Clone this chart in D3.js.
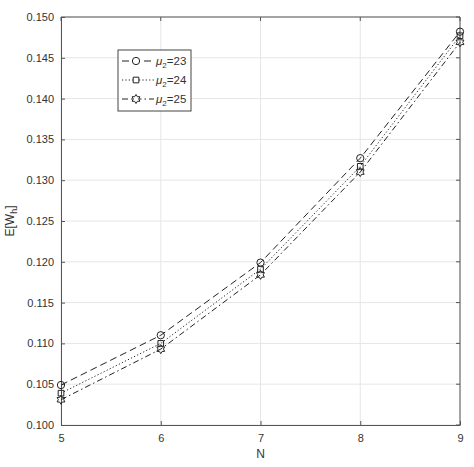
<!DOCTYPE html>
<html>
<head>
<meta charset="utf-8">
<script src="https://cdn.jsdelivr.net/npm/d3@7"></script>
<style>
  body { margin: 0; background: #fff; }
  text { font-family: "Liberation Sans", Arial, sans-serif; fill: #333; }
</style>
</head>
<body>
<svg id="chart"></svg>
<script>
// values
const nValues = [5, 6, 7, 8, 9];
const mu23 = [0.1049, 0.1110, 0.1199, 0.1327, 0.1482];
const mu24 = [0.1039, 0.1100, 0.1191, 0.1317, 0.1477];
const mu25 = [0.1031, 0.1093, 0.1184, 0.1310, 0.1469];
const seriesNames = ["23", "24", "25"];
const yTicks = [0.100, 0.105, 0.110, 0.115, 0.120, 0.125, 0.130, 0.135, 0.140, 0.145, 0.150];

// six-pointed star, like MATLAB's hexagram marker
const hexagram = {
  draw(ctx, size) {
    const r = Math.sqrt(size) * 0.75;
    const ri = r * 0.6;
    for (let i = 0; i < 12; i++) {
      const a = -Math.PI / 2 + i * Math.PI / 6;
      const rr = i % 2 === 0 ? r : ri;
      const px = rr * Math.cos(a), py = rr * Math.sin(a);
      if (i === 0) ctx.moveTo(px, py); else ctx.lineTo(px, py);
    }
    ctx.closePath();
  }
};

const series = [
  { name: seriesNames[0], values: mu23, dash: "7,4", symbol: d3.symbolCircle, size: 42 },
  { name: seriesNames[1], values: mu24, dash: "1.2,2.2", symbol: d3.symbolSquare, size: 32 },
  { name: seriesNames[2], values: mu25, dash: "6,3,1.5,3", symbol: hexagram, size: 36 }
];

const W = 474, H = 467;
const margin = { top: 17, right: 14, bottom: 42, left: 61 };
const width = W - margin.left - margin.right;
const height = H - margin.top - margin.bottom;

const svg = d3.select("#chart").attr("width", W).attr("height", H);
const g = svg.append("g").attr("transform", `translate(${margin.left},${margin.top})`);

const x = d3.scaleLinear().domain([5, 9]).range([0, width]);
const y = d3.scaleLinear().domain([0.100, 0.150]).range([height, 0]);

// grid
g.append("g").selectAll("line").data(nValues).join("line")
  .attr("x1", d => x(d)).attr("x2", d => x(d))
  .attr("y1", 0).attr("y2", height)
  .attr("stroke", "#e6e6e6").attr("stroke-width", 1);
g.append("g").selectAll("line").data(yTicks).join("line")
  .attr("x1", 0).attr("x2", width)
  .attr("y1", d => y(d)).attr("y2", d => y(d))
  .attr("stroke", "#e6e6e6").attr("stroke-width", 1);

// axes with inward ticks
const xAxis = g.append("g").attr("transform", `translate(0,${height})`)
  .call(d3.axisBottom(x).tickValues(nValues).tickFormat(d3.format("d")).tickSizeInner(-4).tickSizeOuter(0).tickPadding(9));
const yAxis = g.append("g")
  .call(d3.axisLeft(y).tickValues(yTicks).tickFormat(d3.format(".3f")).tickSizeInner(-4).tickSizeOuter(0).tickPadding(7));
[xAxis, yAxis].forEach(a => {
  a.selectAll("text").attr("font-size", 11).attr("fill", "#333");
  a.selectAll("line").attr("stroke", "#555");
  a.select(".domain").attr("stroke", "#555");
});
// top and right frame with inward ticks
g.append("line").attr("x1", 0).attr("x2", width).attr("y1", 0).attr("y2", 0).attr("stroke", "#555");
g.append("line").attr("x1", width).attr("x2", width).attr("y1", 0).attr("y2", height).attr("stroke", "#555");
g.append("g").selectAll("line").data(nValues).join("line")
  .attr("x1", d => x(d)).attr("x2", d => x(d)).attr("y1", 0).attr("y2", 4).attr("stroke", "#555");
g.append("g").selectAll("line").data(yTicks).join("line")
  .attr("x1", width - 4).attr("x2", width).attr("y1", d => y(d)).attr("y2", d => y(d)).attr("stroke", "#555");

// axis labels
g.append("text").attr("x", width / 2).attr("y", height + 33)
  .attr("text-anchor", "middle").attr("font-size", 12).text("N");
const yl = g.append("text")
  .attr("transform", `translate(-47,${height / 2}) rotate(-90)`)
  .attr("text-anchor", "middle").attr("font-size", 12);
yl.append("tspan").text("E[W");
yl.append("tspan").attr("font-size", 9).attr("dy", 3).text("h");
yl.append("tspan").attr("dy", -3).text("]");

// lines and markers
const line = d3.line().x((d, i) => x(nValues[i])).y(d => y(d));
series.forEach(s => {
  g.append("path").datum(s.values)
    .attr("d", line).attr("fill", "none")
    .attr("stroke", "#222").attr("stroke-width", 1)
    .attr("stroke-dasharray", s.dash);
  g.append("g").selectAll("path").data(s.values).join("path")
    .attr("transform", (d, i) => `translate(${x(nValues[i])},${y(d)})`)
    .attr("d", d3.symbol(s.symbol, s.size))
    .attr("fill", "none").attr("stroke", "#222").attr("stroke-width", 1);
});

// legend
const lg = svg.append("g").attr("transform", "translate(118,50)");
lg.append("rect").attr("width", 73).attr("height", 61)
  .attr("fill", "#fff").attr("stroke", "#444").attr("stroke-width", 1);
series.forEach((s, i) => {
  const ry = 11 + i * 19;
  lg.append("line").attr("x1", 4).attr("x2", 36).attr("y1", ry).attr("y2", ry)
    .attr("stroke", "#222").attr("stroke-dasharray", s.dash);
  lg.append("path").attr("transform", `translate(18,${ry})`)
    .attr("d", d3.symbol(s.symbol, s.size))
    .attr("fill", "#fff").attr("stroke", "#222");
  const t = lg.append("text").attr("x", 38).attr("y", ry + 4).attr("font-size", 11.5);
  t.append("tspan").attr("font-style", "italic").text("\u03bc");
  t.append("tspan").attr("font-size", 8).attr("dy", 3).text("2");
  t.append("tspan").attr("dy", -3).text("=" + s.name);
});
</script>
</body>
</html>
